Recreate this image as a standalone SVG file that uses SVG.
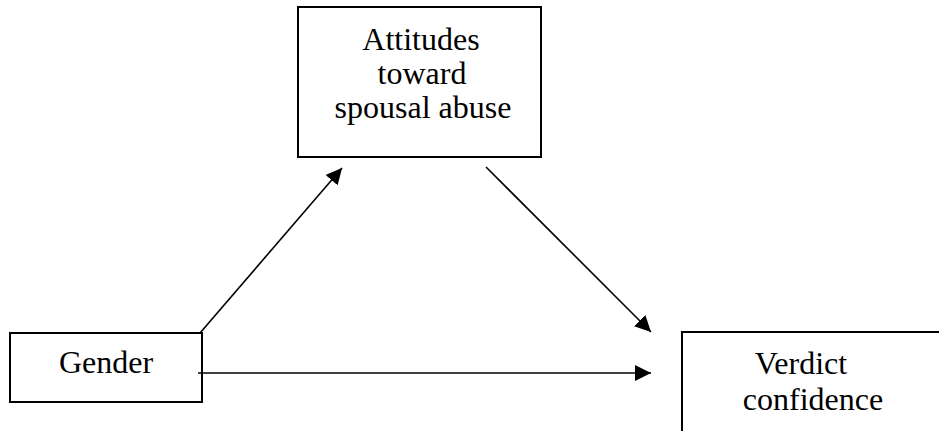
<svg xmlns="http://www.w3.org/2000/svg" width="939" height="431" viewBox="0 0 939 431">
  <style>
    .box { fill: #fff; stroke: #000; stroke-width: 2; }
    .lbl { font-family: "Liberation Serif", "Times New Roman", serif; font-size: 32px; fill: #000; text-anchor: middle; }
    .conn { stroke: #000; stroke-width: 1.6; fill: none; marker-end: url(#arrow); }
  </style>
  <defs>
    <marker id="arrow" markerUnits="userSpaceOnUse" markerWidth="17" markerHeight="16" refX="16" refY="8" orient="auto">
      <path d="M0,0 L16,8 L0,16 z" fill="#000"/>
    </marker>
  </defs>
  <rect width="939" height="431" fill="#fff"/>
  <g id="attitudes">
    <rect class="box" x="298" y="7" width="243" height="150"/>
    <text class="lbl" x="421" y="50">Attitudes</text>
    <text class="lbl" x="422" y="84">toward</text>
    <text class="lbl" x="423" y="118">spousal abuse</text>
  </g>
  <g id="gender">
    <rect class="box" x="10" y="333" width="192" height="69"/>
    <text class="lbl" x="106" y="373">Gender</text>
  </g>
  <g id="verdict">
    <path class="box" d="M682,440 L682,332 L945,332" />
    <text class="lbl" x="801" y="374">Verdict</text>
    <text class="lbl" x="813" y="410">confidence</text>
  </g>
  <g id="connectors">
    <line class="conn" x1="200" y1="333" x2="342" y2="168"/>
    <line class="conn" x1="486" y1="167" x2="651" y2="332"/>
    <line class="conn" x1="198" y1="373" x2="651" y2="373"/>
  </g>
</svg>
